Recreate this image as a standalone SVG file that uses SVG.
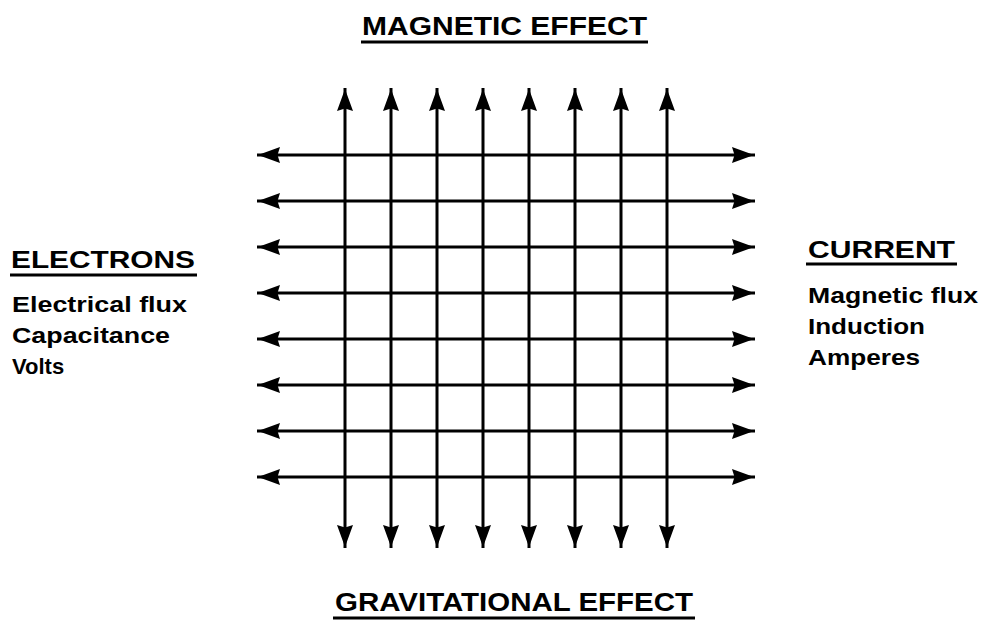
<svg xmlns="http://www.w3.org/2000/svg" width="982" height="621" viewBox="0 0 982 621">
<style>
.ln{stroke:#000;stroke-width:3;fill:none;marker-start:url(#ah);marker-end:url(#ah)}
.ul{stroke:#000;stroke-width:3}
.hd{font-family:"Liberation Sans",Arial,sans-serif;font-size:26px;font-weight:bold;fill:#000}
.hs{font-family:"Liberation Sans",Arial,sans-serif;font-size:23px;font-weight:bold;fill:#000}
.sb{font-family:"Liberation Sans",Arial,sans-serif;font-size:22px;font-weight:bold;fill:#000}
</style>
<defs>
<marker id="ah" viewBox="0 0 24 16" refX="24" refY="8" markerWidth="24" markerHeight="16" markerUnits="userSpaceOnUse" orient="auto-start-reverse">
<path d="M23,8 L1,0 L3.5,8 L1,16 Z" fill="#000"/>
</marker>
</defs>
<rect width="982" height="621" fill="#fff"/>
<g id="connectors">
<line class="ln" x1="345" y1="88" x2="345" y2="548"/>
<line class="ln" x1="391" y1="88" x2="391" y2="548"/>
<line class="ln" x1="437" y1="88" x2="437" y2="548"/>
<line class="ln" x1="483" y1="88" x2="483" y2="548"/>
<line class="ln" x1="529" y1="88" x2="529" y2="548"/>
<line class="ln" x1="575" y1="88" x2="575" y2="548"/>
<line class="ln" x1="621" y1="88" x2="621" y2="548"/>
<line class="ln" x1="667" y1="88" x2="667" y2="548"/>
<line class="ln" x1="257" y1="155" x2="755" y2="155"/>
<line class="ln" x1="257" y1="201" x2="755" y2="201"/>
<line class="ln" x1="257" y1="247" x2="755" y2="247"/>
<line class="ln" x1="257" y1="293" x2="755" y2="293"/>
<line class="ln" x1="257" y1="339" x2="755" y2="339"/>
<line class="ln" x1="257" y1="385" x2="755" y2="385"/>
<line class="ln" x1="257" y1="431" x2="755" y2="431"/>
<line class="ln" x1="257" y1="477" x2="755" y2="477"/>
</g>
<g id="magnetic">
<text class="hd" x="362" y="35" textLength="285" lengthAdjust="spacingAndGlyphs">MAGNETIC EFFECT</text>
<line class="ul" x1="361" y1="42" x2="648" y2="42"/>
</g>
<g id="gravitational">
<text class="hd" x="335" y="611" textLength="358" lengthAdjust="spacingAndGlyphs">GRAVITATIONAL EFFECT</text>
<line class="ul" x1="333" y1="618" x2="695" y2="618"/>
</g>
<g id="electrons">
<text class="hs" x="11" y="268" textLength="184" lengthAdjust="spacingAndGlyphs">ELECTRONS</text>
<line class="ul" x1="10" y1="275" x2="197" y2="275"/>
<text class="sb" x="12" y="312" textLength="175" lengthAdjust="spacingAndGlyphs">Electrical flux</text>
<text class="sb" x="12" y="343" textLength="158" lengthAdjust="spacingAndGlyphs">Capacitance</text>
<text class="sb" x="12" y="374">Volts</text>
</g>
<g id="current">
<text class="hs" x="808" y="258" textLength="147" lengthAdjust="spacingAndGlyphs">CURRENT</text>
<line class="ul" x1="806" y1="264" x2="957" y2="264"/>
<text class="sb" x="808" y="303" textLength="170" lengthAdjust="spacingAndGlyphs">Magnetic flux</text>
<text class="sb" x="808" y="334" textLength="117" lengthAdjust="spacingAndGlyphs">Induction</text>
<text class="sb" x="808" y="365" textLength="112" lengthAdjust="spacingAndGlyphs">Amperes</text>
</g>
</svg>
